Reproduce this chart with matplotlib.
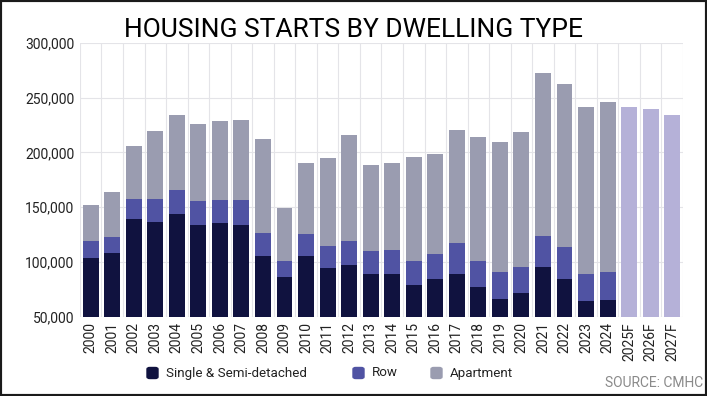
import matplotlib
matplotlib.use("Agg")
import matplotlib.pyplot as plt
from matplotlib.patches import Rectangle, FancyBboxPatch
from matplotlib.ticker import FuncFormatter
import numpy as np

years = ["2000","2001","2002","2003","2004","2005","2006","2007","2008","2009",
         "2010","2011","2012","2013","2014","2015","2016","2017","2018","2019",
         "2020","2021","2022","2023","2024"]
single = [103.5,107.8,138.8,136.7,143.4,133.9,135.8,133.3,105.7,86.5,
          105.4,94.7,97.7,89.2,88.6,78.9,84.7,88.9,76.8,65.8,
          71.3,95.3,84.1,64.0,64.9]
row_top = [119.0,122.7,157.4,157.1,165.6,155.8,156.4,156.4,126.6,101.1,
           125.4,114.5,119.0,109.6,110.5,101.1,107.5,117.2,100.8,91.1,
           95.0,123.9,113.6,89.2,90.5]
total = [151.9,163.4,205.7,219.1,234.3,226.1,228.2,229.1,211.8,149.5,
         190.5,194.8,215.5,188.4,190.2,196.0,198.4,220.6,213.6,209.4,
         218.8,272.0,262.6,241.0,246.2]
forecast_years = ["2025F","2026F","2027F"]
forecast_total = [241.3,239.2,233.7]

single = np.array(single) * 1000
row = np.array(row_top) * 1000 - single
apartment = np.array(total) * 1000 - np.array(row_top) * 1000
forecast_total = np.array(forecast_total) * 1000

c_single = "#10123f"
c_row = "#5053a3"
c_apt = "#9a9cb0"
c_fc = "#b5b1d8"

fig = plt.figure(figsize=(7.07, 3.96), dpi=100)
ax = fig.add_axes([0.113, 0.200, 0.853, 0.692])

labels = years + forecast_years
x = np.arange(len(years))
xf = np.arange(len(years), len(labels))
w = 0.74
base = 50000
ax.bar(x, single - base, w, bottom=base, color=c_single, zorder=3)
ax.bar(x, row, w, bottom=single, color=c_row, zorder=3)
ax.bar(x, apartment, w, bottom=single + row, color=c_apt, zorder=3)
ax.bar(xf, forecast_total - base, w, bottom=base, color=c_fc, zorder=3)

ax.set_ylim(50000, 300000)
ax.set_xlim(-0.5, len(labels) - 0.5)
ax.set_yticks(np.arange(50000, 300001, 50000))
ax.yaxis.set_major_formatter(FuncFormatter(lambda v, p: f"{int(v):,}"))
ax.set_xticks(np.arange(len(labels)))
ax.set_xticklabels(labels, rotation=90)
ax.set_xticks(np.arange(-0.5, len(labels), 1.0), minor=True)
ax.grid(axis="y", which="major", color="#e4e4e8", lw=0.8, zorder=0)
ax.grid(axis="x", which="minor", color="#e4e4e8", lw=0.8, zorder=0)
ax.tick_params(axis="both", which="both", length=0)
ax.tick_params(axis="y", pad=4)
ax.tick_params(axis="x", pad=4)
for lab in ax.get_xticklabels() + ax.get_yticklabels():
    lab.set_fontfamily("Roboto")
    lab.set_fontsize(10)
    lab.set_color("#222222")
for s in ax.spines.values():
    s.set_visible(False)

fig.text(0.5, (396 - 37) / 396, "HOUSING STARTS BY DWELLING TYPE", ha="center", va="baseline",
         fontsize=19, family="Roboto", color="black")

# legend (manual)
legend_items = [("Single & Semi-detached", c_single, 146), ("Row", c_row, 352), ("Apartment", c_apt, 430)]
ly = 373
for text, col, px in legend_items:
    sq = FancyBboxPatch(((px + 1) / 707, (396 - ly - 5.5) / 396), 11 / 707, 11 / 396,
                        boxstyle="round,pad=0.0,rounding_size=0.004",
                        transform=fig.transFigure, facecolor=col, edgecolor=col, lw=1)
    fig.patches.append(sq)
    fig.text((px + 20) / 707, (396 - ly) / 396, text, ha="left", va="center",
             fontsize=9.6, family="Roboto", color="#222222")

fig.text(703 / 707, (396 - 383) / 396, "SOURCE: CMHC", ha="right", va="center",
         fontsize=10, family="Roboto", color="#8a8a8a")

fig.patches.append(Rectangle((0, 0), 1, 1, transform=fig.transFigure, fill=False,
                             edgecolor="#1a1a1a", lw=3))

fig.savefig("out.png", dpi=100)
